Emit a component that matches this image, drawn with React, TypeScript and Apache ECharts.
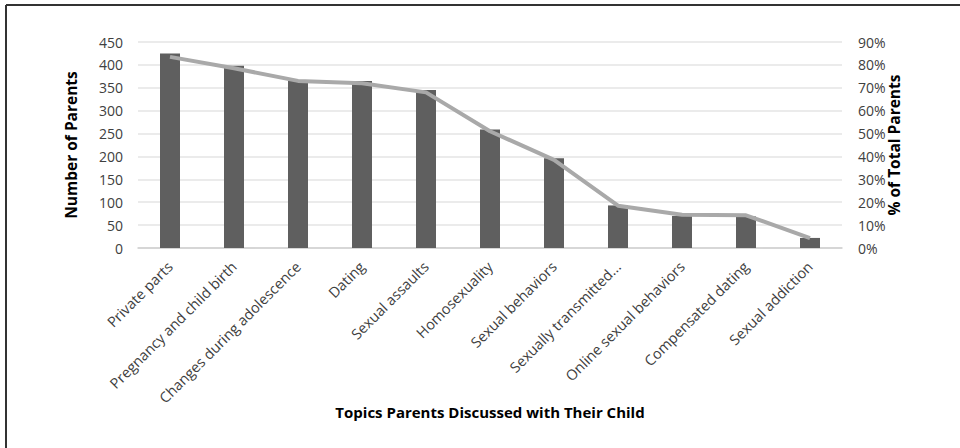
import React, { useEffect, useRef } from "react";
import * as echarts from "echarts";

const categories = [
  "Private parts",
  "Pregnancy and child birth",
  "Changes during adolescence",
  "Dating",
  "Sexual assaults",
  "Homosexuality",
  "Sexual behaviors",
  "Sexually transmitted...",
  "Online sexual behaviors",
  "Compensated dating",
  "Sexual addiction",
];
const parents = [425, 398, 365, 365, 345, 259, 196, 93, 70, 69, 22];
const percent = [83.5, 78.5, 73, 72, 68, 51, 38.5, 18.5, 14.5, 14.3, 4.3];

const FONT = "Open Sans";

export default function App() {
  const ref = useRef<HTMLDivElement>(null);
  useEffect(() => {
    document.body.style.margin = "0";
    const chart = echarts.init(ref.current!, null, { renderer: "svg" });
    chart.setOption({
      animation: false,
      textStyle: { fontFamily: FONT },
      grid: { left: 138, right: 118, top: 42, bottom: 200, containLabel: false },
      graphic: [
        { type: "line", shape: { x1: 6, y1: 5, x2: 960, y2: 5 }, style: { stroke: "#333", lineWidth: 2 } },
        { type: "line", shape: { x1: 6, y1: 5, x2: 6, y2: 448 }, style: { stroke: "#333", lineWidth: 2 } },
      ],
      xAxis: {
        type: "category",
        data: categories,
        axisTick: { show: false },
        axisLine: { lineStyle: { color: "#d0d0d0", width: 1.5 } },
        axisLabel: { rotate: 45, fontSize: 14.5, color: "#404040", margin: 16, interval: 0 },
        name: "Topics Parents Discussed with Their Child",
        nameLocation: "middle",
        nameGap: 156,
        nameMoveOverlap: false,
        nameTextStyle: { fontSize: 15, fontWeight: "bold", color: "#000" },
      },
      yAxis: [
        {
          type: "value",
          min: 0,
          max: 450,
          interval: 50,
          axisLabel: { fontSize: 14, color: "#404040", margin: 15 },
          splitLine: { lineStyle: { color: "#e4e4e4", width: 1.5 } },
          axisLine: { show: false },
          axisTick: { show: false },
          name: "Number of Parents",
          nameLocation: "middle",
          nameGap: 59,
          nameMoveOverlap: false,
          nameTextStyle: { fontSize: 15.5, fontWeight: "bold", color: "#000" },
        },
        {
          type: "value",
          min: 0,
          max: 90,
          interval: 10,
          axisLabel: { fontSize: 14, color: "#404040", margin: 16, formatter: "{value}%" },
          splitLine: { show: false },
          axisLine: { show: false },
          axisTick: { show: false },
          name: "% of Total Parents",
          nameLocation: "middle",
          nameGap: 44,
          nameRotate: 90,
          nameMoveOverlap: false,
          nameTextStyle: { fontSize: 15.5, fontWeight: "bold", color: "#000" },
        },
      ],
      series: [
        {
          type: "bar",
          data: parents,
          barWidth: 20,
          itemStyle: { color: "#5f5f5f" },
        },
        {
          type: "line",
          yAxisIndex: 1,
          data: percent,
          symbol: "none",
          lineStyle: { color: "#a9a9a9", width: 4 },
        },
      ],
    });
    return () => chart.dispose();
  }, []);
  return <div ref={ref} style={{ width: 960, height: 448 }} />;
}
